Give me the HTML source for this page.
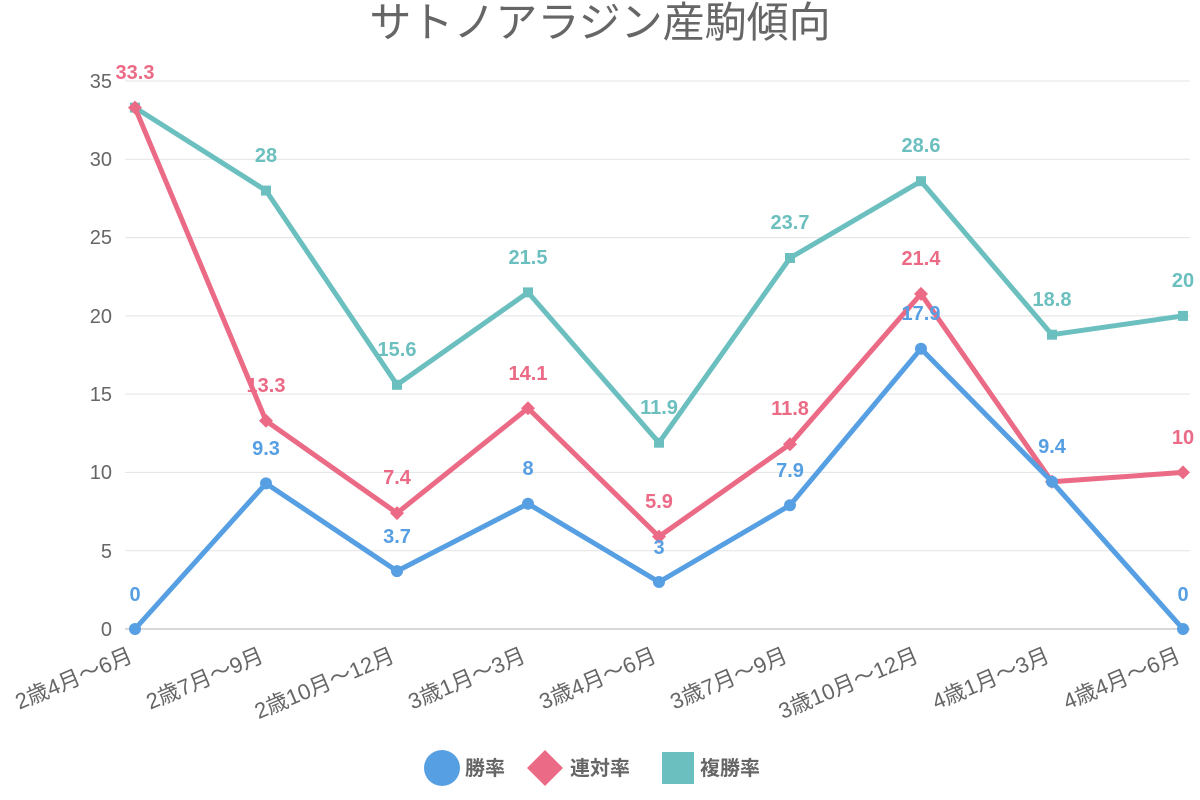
<!DOCTYPE html>
<html><head><meta charset="utf-8"><style>body{margin:0;background:#fff}svg{display:block}</style></head>
<body>
<svg width="1200" height="800" xmlns="http://www.w3.org/2000/svg" font-family="Liberation Sans, Noto Sans CJK JP, sans-serif">
<text x="600" y="37" text-anchor="middle" font-size="42" fill="#666">サトノアラジン産駒傾向</text>
<g stroke="#e3e3e3" stroke-width="1">
<line x1="125" x2="1190" y1="81" y2="81"/><line x1="125" x2="1190" y1="159.3" y2="159.3"/>
<line x1="125" x2="1190" y1="237.6" y2="237.6"/><line x1="125" x2="1190" y1="315.9" y2="315.9"/>
<line x1="125" x2="1190" y1="394.1" y2="394.1"/><line x1="125" x2="1190" y1="472.4" y2="472.4"/>
<line x1="125" x2="1190" y1="550.7" y2="550.7"/>
</g>
<line x1="125" x2="1190" y1="629" y2="629" stroke="#ccc" stroke-width="1.5"/>
<g font-size="20" fill="#666" text-anchor="end">
<text x="112" y="88">35</text><text x="112" y="166">30</text><text x="112" y="244">25</text>
<text x="112" y="323">20</text><text x="112" y="401">15</text><text x="112" y="479">10</text>
<text x="112" y="558">5</text><text x="112" y="636">0</text>
</g>
<g font-size="22" fill="#666" text-anchor="end">
<text transform="translate(134,661) rotate(-23)">2歳4月～6月</text>
<text transform="translate(265,661) rotate(-23)">2歳7月～9月</text>
<text transform="translate(396,661) rotate(-23)">2歳10月～12月</text>
<text transform="translate(527,661) rotate(-23)">3歳1月～3月</text>
<text transform="translate(658,661) rotate(-23)">3歳4月～6月</text>
<text transform="translate(789,661) rotate(-23)">3歳7月～9月</text>
<text transform="translate(920,661) rotate(-23)">3歳10月～12月</text>
<text transform="translate(1051,661) rotate(-23)">4歳1月～3月</text>
<text transform="translate(1182,661) rotate(-23)">4歳4月～6月</text>
</g>
<polyline fill="none" stroke="#6CBFBF" stroke-width="5" stroke-linejoin="round" points="135,107.6 266,190.6 397,384.8 528,292.4 659,442.7 790,258 921,181.2 1052,334.7 1183,315.9"/>
<g fill="#6CBFBF">
<rect x="130" y="102.6" width="10" height="10"/><rect x="261" y="185.6" width="10" height="10"/><rect x="392" y="379.8" width="10" height="10"/><rect x="523" y="287.4" width="10" height="10"/><rect x="654" y="437.7" width="10" height="10"/><rect x="785" y="253" width="10" height="10"/><rect x="916" y="176.2" width="10" height="10"/><rect x="1047" y="329.7" width="10" height="10"/><rect x="1178" y="310.9" width="10" height="10"/>
</g>
<polyline fill="none" stroke="#EB6A85" stroke-width="5" stroke-linejoin="round" points="135,107.6 266,420.8 397,513.1 528,408.2 659,536.6 790,444.2 921,293.9 1052,481.8 1183,472.4"/>
<g fill="#EB6A85">
<path d="M135 100.6l7 7-7 7-7-7z"/><path d="M266 413.8l7 7-7 7-7-7z"/><path d="M397 506.1l7 7-7 7-7-7z"/><path d="M528 401.2l7 7-7 7-7-7z"/><path d="M659 529.6l7 7-7 7-7-7z"/><path d="M790 437.2l7 7-7 7-7-7z"/><path d="M921 286.9l7 7-7 7-7-7z"/><path d="M1052 474.8l7 7-7 7-7-7z"/><path d="M1183 465.4l7 7-7 7-7-7z"/>
</g>
<polyline fill="none" stroke="#579FE3" stroke-width="5" stroke-linejoin="round" points="135,629 266,483.4 397,571.1 528,503.7 659,582 790,505.3 921,348.7 1052,481.8 1183,629"/>
<g fill="#579FE3">
<circle cx="135" cy="629" r="6"/><circle cx="266" cy="483.4" r="6"/><circle cx="397" cy="571.1" r="6"/><circle cx="528" cy="503.7" r="6"/><circle cx="659" cy="582" r="6"/><circle cx="790" cy="505.3" r="6"/><circle cx="921" cy="348.7" r="6"/><circle cx="1052" cy="481.8" r="6"/><circle cx="1183" cy="629" r="6"/>
</g>
<g font-size="20" font-weight="bold" text-anchor="middle">
<g fill="#6CBFBF">
<text x="266" y="162">28</text><text x="397" y="356">15.6</text><text x="528" y="264">21.5</text><text x="659" y="414">11.9</text><text x="790" y="229">23.7</text><text x="921" y="152">28.6</text><text x="1052" y="306">18.8</text><text x="1183" y="287">20</text>
</g>
<g fill="#EB6A85">
<text x="135" y="79">33.3</text><text x="266" y="392">13.3</text><text x="397" y="484">7.4</text><text x="528" y="380">14.1</text><text x="659" y="508">5.9</text><text x="790" y="415">11.8</text><text x="921" y="265">21.4</text><text x="1183" y="444">10</text>
</g>
<g fill="#579FE3">
<text x="135" y="601">0</text><text x="266" y="455">9.3</text><text x="397" y="543">3.7</text><text x="528" y="475">8</text><text x="659" y="554">3</text><text x="790" y="477">7.9</text><text x="921" y="320">17.9</text><text x="1052" y="453">9.4</text><text x="1183" y="601">0</text>
</g>
</g>
<g font-size="20" font-weight="bold" fill="#666">
<circle cx="442" cy="768" r="18" fill="#579FE3"/><text x="465" y="775">勝率</text>
<path d="M545 750l18 18-18 18-18-18z" fill="#EB6A85"/><text x="570" y="775">連対率</text>
<rect x="662" y="752" width="32" height="32" fill="#6CBFBF"/><text x="700" y="775">複勝率</text>
</g>
</svg>
</body></html>
